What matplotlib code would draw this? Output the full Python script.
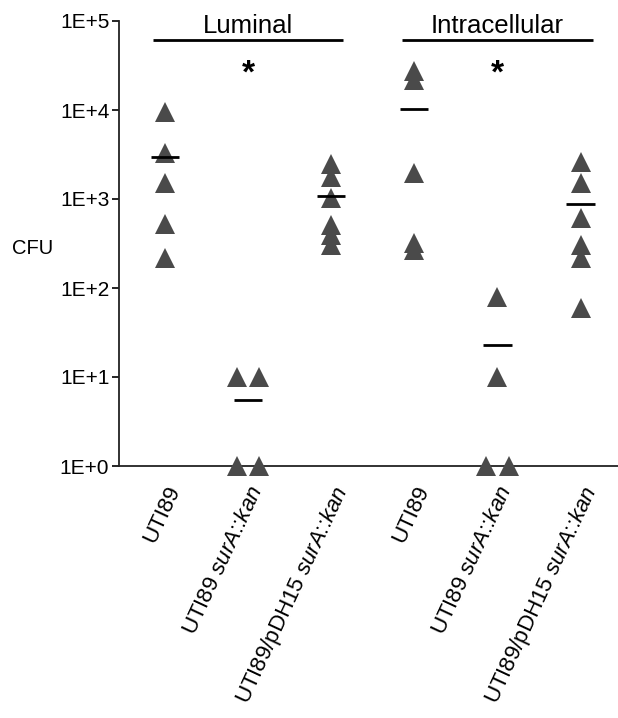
import matplotlib
matplotlib.use("Agg")
import matplotlib.pyplot as plt
import numpy as np

plt.rcParams['font.family'] = ['Liberation Sans', 'DejaVu Sans']
plt.rcParams['mathtext.fontset'] = 'custom'
plt.rcParams['mathtext.rm'] = 'Liberation Sans'
plt.rcParams['mathtext.it'] = 'Liberation Sans:italic'

# ---- data ----
categories = ["UTI89", "UTI89 $\\mathit{surA}$::$\\mathit{kan}$",
              "UTI89/pDH15 $\\mathit{surA}$::$\\mathit{kan}$",
              "UTI89", "UTI89 $\\mathit{surA}$::$\\mathit{kan}$",
              "UTI89/pDH15 $\\mathit{surA}$::$\\mathit{kan}$"]
lum_wt = [9500, 3250, 1520, 520, 220]
lum_sura = [10, 10, 1, 1]
lum_comp = [2470, 1750, 1020, 510, 395, 305]
intra_wt = [27600, 21700, 1950, 318, 268]
intra_sura = [79, 10, 1, 1]
intra_comp = [2600, 1510, 606, 303, 216, 59]
groups = [lum_wt, lum_sura, lum_comp, intra_wt, intra_sura, intra_comp]
group_titles = ["Luminal", "Intracellular"]
ytick_vals = [1, 10, 100, 1000, 10000, 100000]
ytick_labels = ["1E+0", "1E+1", "1E+2", "1E+3", "1E+4", "1E+5"]

# horizontal offsets for tied points (layout only)
offsets = [
    [0, 0, 0, 0, 0],
    [-0.136, 0.136, -0.136, 0.136],
    [0, 0, 0, 0, 0, 0],
    [0, 0, 0, 0, 0],
    [0, 0, -0.14, 0.14],
    [0, 0, 0, 0, 0, 0],
]

fig = plt.figure(figsize=(6.18, 7.18), dpi=100)
ax = fig.add_axes([119/618, (718-466)/718, 1 - 119/618, (466-21)/718])
ax.set_yscale('log')
ax.set_ylim(1, 1e5)
ax.set_xlim(0.4464, 6.451)

mcolor = '#4a4a4a'
for i, (vals, offs) in enumerate(zip(groups, offsets)):
    x = i + 1
    xs = [x + o for o in offs]
    ax.plot(xs, vals, linestyle='none', marker='^', markersize=14.5,
            color=mcolor, markeredgewidth=0, clip_on=False, zorder=3)
    m = np.mean(vals)
    ax.hlines(m, x - 0.17, x + 0.17, color='black', linewidth=2.0, zorder=4)

ax.set_yticks(ytick_vals)
ax.set_yticklabels(ytick_labels, fontsize=15)
ax.yaxis.set_minor_locator(matplotlib.ticker.NullLocator())
ax.tick_params(axis='y', length=5, width=1.2, direction='out', pad=2)
ax.set_xticks(range(1, 7))
ax.set_xticklabels(categories, rotation=65, ha='right', va='top',
                   rotation_mode='anchor', fontsize=16)
ax.tick_params(axis='x', length=0, pad=12)

for s in ['top', 'right']:
    ax.spines[s].set_visible(False)
for s in ['left', 'bottom']:
    ax.spines[s].set_linewidth(1.3)
    ax.spines[s].set_color('#222222')

# group headers
for (x0, x1), title in zip([(1, 3), (4, 6)], group_titles):
    ax.plot([x0 - 0.145, x1 + 0.145], [6.1e4, 6.1e4], color='black',
            linewidth=2.0, clip_on=False, solid_capstyle='butt')
    ax.text((x0 + x1) / 2, 10**4.865, title, ha='center', va='baseline',
            fontsize=18.5)
    ax.text((x0 + x1) / 2, 10**4.40, '*', ha='center', va='center',
            fontsize=24, fontweight='bold')

fig.text(12/618, 1 - 248/718, 'CFU', ha='left', va='center', fontsize=14.5)

fig.savefig('out.png', dpi=100)
